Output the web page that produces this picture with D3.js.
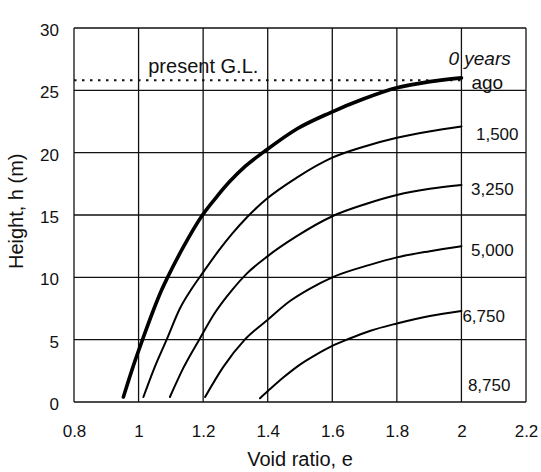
<!DOCTYPE html>
<html>
<head>
<meta charset="utf-8">
<script src="https://cdn.jsdelivr.net/npm/d3@7"></script>
<style>
  html, body { margin: 0; padding: 0; background: #fff; }
  svg text { font-family: "Liberation Sans", Arial, Helvetica, sans-serif; fill: #111; }
</style>
</head>
<body>
<svg id="chart" width="541" height="472"></svg>
<script>
// ---- data ----
const xTicks = [0.8, 1, 1.2, 1.4, 1.6, 1.8, 2, 2.2];
const xTickLabels = ["0.8", "1", "1.2", "1.4", "1.6", "1.8", "2", "2.2"];
const yTicks = [0, 5, 10, 15, 20, 25, 30];
const yTickLabels = ["0", "5", "10", "15", "20", "25", "30"];

const seriesNames = ["0 years ago", "1,500", "3,250", "5,000", "6,750", "8,750"];

const e0    = [0.953, 0.985, 1.015, 1.045, 1.07, 1.09, 1.138, 1.198, 1.24, 1.283, 1.33, 1.39, 1.49, 1.593, 1.696, 1.8, 1.902, 2.0];
const h0    = [0.4, 3.0, 5.2, 7.3, 8.9, 10.0, 12.4, 15.0, 16.4, 17.7, 18.9, 20.1, 21.9, 23.2, 24.3, 25.2, 25.7, 26.0];

const e1500 = [1.015, 1.05, 1.087, 1.128, 1.165, 1.2, 1.247, 1.29, 1.335, 1.397, 1.49, 1.6, 1.7, 1.8, 1.9, 2.0];
const h1500 = [0.4, 2.8, 5.0, 7.5, 9.1, 10.4, 12.1, 13.5, 14.8, 16.3, 18.0, 19.6, 20.5, 21.2, 21.7, 22.1];

const e3250 = [1.097, 1.138, 1.19, 1.235, 1.29, 1.335, 1.4, 1.49, 1.6, 1.706, 1.8, 1.902, 2.0];
const h3250 = [0.4, 2.7, 5.1, 7.1, 9.0, 10.3, 11.7, 13.3, 14.9, 15.9, 16.6, 17.1, 17.4];

const e5000 = [1.206, 1.262, 1.329, 1.4, 1.469, 1.531, 1.6, 1.716, 1.8, 1.902, 2.0];
const h5000 = [0.4, 2.8, 5.0, 6.6, 8.1, 9.1, 10.0, 11.0, 11.6, 12.1, 12.5];

const e6750 = [1.376, 1.41, 1.45, 1.5, 1.55, 1.6, 1.65, 1.716, 1.8, 1.902, 2.0];
const h6750 = [0.3, 1.1, 2.0, 3.0, 3.8, 4.5, 5.05, 5.7, 6.3, 6.9, 7.3];

const groundLevel = 25.8;   // present G.L.

// ---- layout ----
const W = 541, H = 472;
const m = { left: 74, right: 15, top: 28, bottom: 70 };
const x = d3.scaleLinear().domain([0.8, 2.2]).range([m.left, W - m.right]);
const y = d3.scaleLinear().domain([0, 30]).range([H - m.bottom, m.top]);

const svg = d3.select("#chart");
const FONT = "Liberation Sans, Arial, sans-serif";

// grid
svg.append("g").selectAll("line").data(xTicks).join("line")
  .attr("x1", d => x(d)).attr("x2", d => x(d))
  .attr("y1", y(0)).attr("y2", y(30))
  .attr("stroke", "#111").attr("stroke-width", 1.3);
svg.append("g").selectAll("line").data(yTicks).join("line")
  .attr("x1", x(0.8)).attr("x2", x(2.2))
  .attr("y1", d => y(d)).attr("y2", d => y(d))
  .attr("stroke", "#111").attr("stroke-width", 1.3);

// axes labels (no tick marks)
const xAxis = d3.axisBottom(x).tickValues(xTicks)
  .tickFormat((d, i) => xTickLabels[i]).tickSize(0).tickPadding(23);
const gx = svg.append("g").attr("transform", `translate(0,${y(0)})`).call(xAxis);
gx.select(".domain").remove();
gx.selectAll("text").attr("font-size", 17).attr("font-family", FONT).attr("fill", "#111");

const yAxis = d3.axisLeft(y).tickValues(yTicks)
  .tickFormat((d, i) => yTickLabels[i]).tickSize(0).tickPadding(15);
const gy = svg.append("g").attr("transform", `translate(${x(0.8)},2)`).call(yAxis);
gy.select(".domain").remove();
gy.selectAll("text").attr("font-size", 17).attr("font-family", FONT).attr("fill", "#111");

// axis titles
svg.append("text").attr("x", x(1.5)).attr("y", 466)
  .attr("text-anchor", "middle").attr("font-size", 20).text("Void ratio, e");
svg.append("text")
  .attr("transform", `translate(23,${y(15.3)}) rotate(-90)`)
  .attr("text-anchor", "middle").attr("font-size", 20).text("Height, h (m)");

// present ground level dotted line
svg.append("line")
  .attr("x1", x(0.8)).attr("x2", x(2.0))
  .attr("y1", y(groundLevel)).attr("y2", y(groundLevel))
  .attr("stroke", "#111").attr("stroke-width", 2).attr("stroke-dasharray", "2.5,5.5");
svg.append("text").attr("x", x(1.03)).attr("y", y(groundLevel) - 7)
  .attr("font-size", 20).text("present G.L.");

// curves
const line = d3.line().x(d => x(d[0])).y(d => y(d[1])).curve(d3.curveMonotoneX);
const series = [
  { e: e0, h: h0, w: 3.6 },
  { e: e1500, h: h1500, w: 2 },
  { e: e3250, h: h3250, w: 2 },
  { e: e5000, h: h5000, w: 2 },
  { e: e6750, h: h6750, w: 2 }
];
svg.append("g").selectAll("path").data(series).join("path")
  .attr("d", s => line(s.e.map((v, i) => [v, s.h[i]])))
  .attr("fill", "none").attr("stroke", "#000")
  .attr("stroke-width", s => s.w).attr("stroke-linejoin", "round").attr("stroke-linecap", "round");

// series labels
const lab = svg.append("g");
lab.append("text").attr("x", x(2.0) - 13).attr("y", y(27.5) + 6).attr("font-size", 19)
  .attr("font-style", "italic").text("0 years");
lab.append("text").attr("x", x(2.0) + 10).attr("y", y(25.6) + 6).attr("font-size", 19).text("ago");
const labelH = [21.5, 17.1, 12.2, 6.9, 1.4];
const labelX = [2.045, 2.03, 2.03, 2.003, 2.02];
lab.selectAll("text.s").data(seriesNames.slice(1)).join("text").attr("class", "s")
  .attr("font-size", 17)
  .attr("x", (d, i) => x(labelX[i])).attr("y", (d, i) => y(labelH[i]) + 6).text(d => d);
</script>
</body>
</html>
